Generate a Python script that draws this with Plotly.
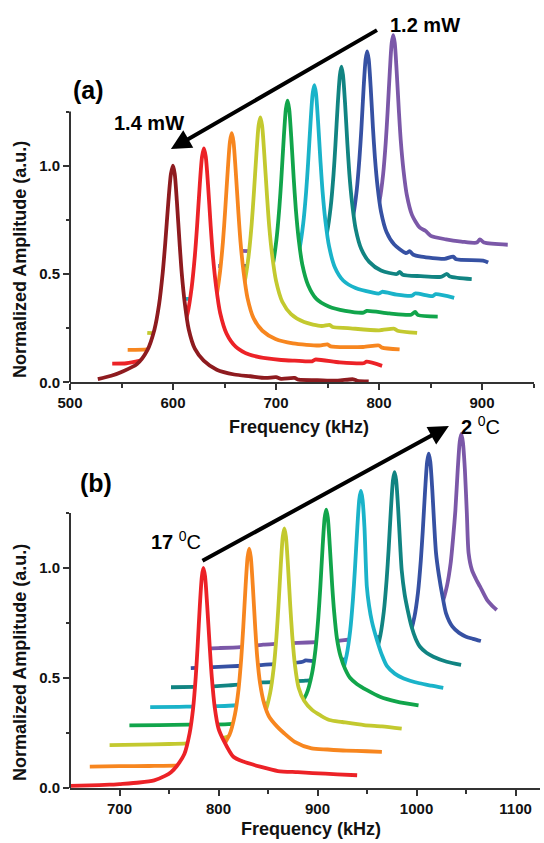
import plotly.graph_objects as go

FONT = "Liberation Sans, Arial, sans-serif"
AXC = "#333333"

# ---------------- panel (a): laser power series (kHz, a.u.) ----------------
a_darkred_f = [527, 540, 550, 565, 575, 582, 586.5, 590, 592.5, 595.5, 598, 600, 601.7, 603.8, 606.4, 608.5, 611.5, 615.3, 621.3, 629.8, 642.5, 659.5, 675, 690, 700, 705, 718, 722, 740, 760, 775, 779, 790]
a_darkred_y = [0.015, 0.03, 0.048, 0.084, 0.147, 0.244, 0.36, 0.505, 0.644, 0.834, 0.962, 1.0, 0.962, 0.833, 0.642, 0.503, 0.363, 0.244, 0.154, 0.1, 0.058, 0.036, 0.028, 0.02, 0.024, 0.016, 0.02, 0.012, 0.01, 0.008, 0.014, 0.007, 0.004]

a_red_f = [541, 555, 568.4, 586, 599.2, 608, 614.2, 618.1, 621.2, 623.4, 626, 628.2, 630, 631.8, 634, 636.6, 638.8, 641.9, 645.8, 652, 660.8, 674, 691.6, 705, 718, 735, 738, 762, 785, 788, 803]
a_red_y = [0.086, 0.088, 0.1, 0.12, 0.16, 0.222, 0.32, 0.437, 0.583, 0.722, 0.913, 1.042, 1.08, 1.042, 0.912, 0.72, 0.58, 0.44, 0.32, 0.225, 0.165, 0.128, 0.11, 0.103, 0.1, 0.097, 0.105, 0.092, 0.088, 0.095, 0.076]

a_orange_f = [556, 575, 597.5, 614.5, 627.3, 635.8, 641.7, 645.5, 648.5, 650.6, 653.2, 655.3, 657, 658.7, 660.8, 663.4, 665.5, 668.5, 672.3, 678.3, 686.8, 699.5, 716.5, 742, 750, 753, 784.5, 800, 803, 820]
a_orange_y = [0.15, 0.152, 0.17, 0.188, 0.225, 0.288, 0.386, 0.504, 0.65, 0.79, 0.982, 1.112, 1.15, 1.112, 0.982, 0.79, 0.65, 0.51, 0.39, 0.295, 0.238, 0.2, 0.18, 0.17, 0.175, 0.166, 0.163, 0.17, 0.16, 0.152]

a_yg_f = [575, 583, 600, 625.3, 642.3, 655, 663.6, 669.5, 673.3, 676.3, 678.4, 681, 683.1, 684.8, 686.5, 688.6, 691.2, 693.3, 696.3, 700.1, 706.1, 714.6, 727.3, 744.3, 752, 755, 769.8, 800, 815, 818, 837]
a_yg_y = [0.228, 0.226, 0.232, 0.248, 0.266, 0.303, 0.365, 0.463, 0.58, 0.726, 0.865, 1.056, 1.185, 1.223, 1.185, 1.056, 0.865, 0.726, 0.586, 0.467, 0.372, 0.315, 0.278, 0.26, 0.265, 0.255, 0.25, 0.24, 0.247, 0.238, 0.228]

a_green_f = [590, 620, 631.2, 655.2, 671.2, 683.2, 691.2, 696.8, 700.4, 703.2, 705.2, 707.6, 709.6, 711.2, 712.8, 714.8, 717.2, 719.2, 722, 725.6, 731.2, 739.2, 751.2, 767.2, 785, 788, 810, 831.2, 835, 838, 857]
a_green_y = [0.305, 0.306, 0.31, 0.32, 0.343, 0.38, 0.442, 0.54, 0.657, 0.803, 0.942, 1.133, 1.262, 1.30, 1.262, 1.132, 0.941, 0.802, 0.662, 0.542, 0.448, 0.385, 0.35, 0.33, 0.322, 0.33, 0.318, 0.312, 0.325, 0.31, 0.303]

a_cyan_f = [609, 630, 657.2, 681.2, 697.2, 709.2, 717.2, 722.8, 726.4, 729.2, 731.2, 733.6, 735.6, 737.2, 738.8, 740.8, 743.2, 745.2, 748, 751.6, 757.2, 765.2, 777.2, 793.2, 800, 803, 817.2, 832, 835, 852, 855, 873]
a_cyan_y = [0.385, 0.386, 0.392, 0.4, 0.42, 0.455, 0.518, 0.616, 0.732, 0.877, 1.015, 1.205, 1.333, 1.372, 1.335, 1.207, 1.018, 0.881, 0.744, 0.626, 0.53, 0.47, 0.435, 0.415, 0.41, 0.418, 0.405, 0.4, 0.41, 0.398, 0.407, 0.39]

a_teal_f = [640, 660, 686.5, 709.6, 725, 736.5, 744.3, 749.6, 753.1, 755.8, 757.7, 760, 762, 763.5, 765, 767, 769.3, 771.2, 773.9, 777.4, 782.8, 790.5, 802, 817.4, 820, 823, 840.5, 860, 866, 869, 890]
a_teal_y = [0.46, 0.461, 0.468, 0.478, 0.496, 0.533, 0.596, 0.693, 0.81, 0.956, 1.096, 1.288, 1.417, 1.457, 1.42, 1.292, 1.102, 0.964, 0.827, 0.707, 0.615, 0.556, 0.516, 0.5, 0.51, 0.497, 0.49, 0.487, 0.5, 0.488, 0.476]

a_blue_f = [644, 660, 670, 690, 713.5, 736, 751, 762.3, 769.8, 775, 778.4, 781, 782.9, 785.1, 787, 788.5, 790, 791.9, 794.1, 796, 798.6, 802, 807.3, 814.8, 826, 830, 833, 841, 863.5, 872, 875, 901, 906]
a_blue_y = [0.537, 0.536, 0.537, 0.541, 0.547, 0.557, 0.575, 0.611, 0.674, 0.771, 0.888, 1.033, 1.171, 1.362, 1.49, 1.528, 1.491, 1.364, 1.177, 1.04, 0.904, 0.787, 0.694, 0.636, 0.597, 0.605, 0.59, 0.58, 0.57, 0.58, 0.568, 0.562, 0.553]

a_purple_f = [666, 680, 697, 720, 740.8, 762.7, 777.3, 788.3, 795.6, 800.7, 804, 806.5, 808.3, 810.5, 812.3, 813.8, 815.3, 817.1, 819.3, 821.1, 823.7, 827, 832, 839.4, 845, 850.3, 865, 880, 895, 898, 902, 925]
a_purple_y = [0.607, 0.606, 0.608, 0.612, 0.617, 0.627, 0.645, 0.682, 0.744, 0.842, 0.96, 1.105, 1.244, 1.436, 1.565, 1.603, 1.566, 1.44, 1.253, 1.118, 0.982, 0.865, 0.773, 0.715, 0.7, 0.676, 0.66, 0.65, 0.645, 0.66, 0.645, 0.635]

# ---------------- panel (b): temperature series (kHz, a.u.) ----------------
b_red_f = [650, 670, 690, 700, 720, 735, 746, 752, 757.7, 765.5, 770.8, 774.3, 777, 778.9, 781.2, 783.2, 784.7, 786.4, 788.5, 791.1, 793.2, 796.2, 800, 805, 815, 825, 842, 860, 880, 895, 920, 940]
b_red_y = [0.01, 0.012, 0.015, 0.018, 0.025, 0.035, 0.055, 0.072, 0.099, 0.154, 0.248, 0.36, 0.505, 0.644, 0.834, 0.962, 1.0, 0.962, 0.834, 0.644, 0.505, 0.366, 0.27, 0.218, 0.142, 0.12, 0.097, 0.077, 0.072, 0.068, 0.062, 0.058]

b_orange_f = [670, 700, 730, 760, 780, 791, 803, 811, 816.6, 820.2, 823, 825, 827.4, 829.4, 831, 832.6, 834.6, 837, 839, 842, 846, 851, 859, 866, 877, 894, 910, 929, 950, 965]
b_orange_y = [0.097, 0.099, 0.1, 0.103, 0.115, 0.15, 0.186, 0.241, 0.335, 0.448, 0.593, 0.731, 0.922, 1.05, 1.088, 1.05, 0.922, 0.735, 0.6, 0.475, 0.385, 0.325, 0.28, 0.25, 0.21, 0.18, 0.175, 0.17, 0.167, 0.164]

b_yg_f = [690, 720, 750, 768, 790, 810.5, 826.5, 838.5, 846.5, 852.1, 855.7, 858.5, 860.5, 862.9, 864.9, 866.5, 868.1, 870.1, 872.5, 874.5, 877.3, 880.9, 886.5, 894.5, 903, 912, 925, 947, 965, 985]
b_yg_y = [0.195, 0.197, 0.2, 0.203, 0.21, 0.235, 0.26, 0.285, 0.338, 0.431, 0.544, 0.687, 0.825, 1.014, 1.142, 1.18, 1.142, 1.014, 0.825, 0.69, 0.555, 0.456, 0.397, 0.355, 0.33, 0.309, 0.3, 0.286, 0.28, 0.27]

b_green_f = [710, 740, 770, 790, 810, 840, 852.8, 868.8, 880.8, 888.8, 894.4, 898, 900.8, 902.8, 905.2, 907.2, 908.8, 910.4, 912.4, 914.8, 916.8, 919.6, 923.2, 928, 933, 940, 950, 963, 980, 1002]
b_green_y = [0.285, 0.286, 0.288, 0.288, 0.29, 0.3, 0.31, 0.344, 0.373, 0.427, 0.52, 0.632, 0.775, 0.912, 1.1, 1.228, 1.265, 1.228, 1.1, 0.92, 0.8, 0.68, 0.6, 0.54, 0.5, 0.472, 0.445, 0.415, 0.393, 0.376]

b_cyan_f = [731, 760, 775, 800, 815, 835, 850, 870, 887.8, 903.8, 915.8, 923.8, 929.4, 933, 935.8, 937.8, 940.2, 942.2, 943.8, 945.4, 947.4, 949.8, 952, 955, 960, 965, 970, 978, 987, 1003, 1015, 1027]
b_cyan_y = [0.368, 0.369, 0.37, 0.372, 0.375, 0.38, 0.385, 0.393, 0.41, 0.427, 0.456, 0.51, 0.604, 0.716, 0.859, 0.996, 1.185, 1.313, 1.35, 1.313, 1.185, 0.915, 0.83, 0.755, 0.673, 0.605, 0.555, 0.52, 0.498, 0.476, 0.465, 0.455]

b_teal_f = [752, 776, 795, 810, 820, 845, 870, 888, 905, 921.8, 937.8, 949.8, 957.8, 963.4, 967, 969.8, 971.8, 974.2, 976.2, 977.8, 979.4, 981.4, 983.5, 985, 988, 991, 995, 999, 1003.5, 1010, 1017, 1030.5, 1045]
b_teal_y = [0.458, 0.46, 0.462, 0.466, 0.47, 0.48, 0.484, 0.488, 0.497, 0.503, 0.517, 0.546, 0.6, 0.693, 0.804, 0.947, 1.084, 1.272, 1.399, 1.436, 1.399, 1.272, 1.1, 0.99, 0.88, 0.81, 0.733, 0.68, 0.642, 0.615, 0.597, 0.574, 0.56]

b_blue_f = [772, 790, 810, 830, 845, 870, 885, 888, 900, 928, 950, 972.3, 984.3, 992.3, 997.9, 1001.5, 1004.3, 1006.3, 1008.7, 1010.7, 1012.3, 1013.9, 1015.9, 1017.8, 1019.7, 1022.5, 1026.3, 1029.8, 1036.3, 1043, 1050, 1057, 1065]
b_blue_y = [0.545, 0.548, 0.553, 0.556, 0.56, 0.566, 0.574, 0.58, 0.575, 0.585, 0.59, 0.605, 0.633, 0.686, 0.779, 0.89, 1.033, 1.169, 1.356, 1.483, 1.52, 1.483, 1.356, 1.2, 1.067, 0.97, 0.87, 0.794, 0.733, 0.705, 0.688, 0.678, 0.668]

b_purple_f = [790, 800, 822, 845, 858, 880, 900, 920, 933, 950, 962, 975, 990, 1005.2, 1017.2, 1025.2, 1030.8, 1034.4, 1037.2, 1039.2, 1041.6, 1043.6, 1045.2, 1046.8, 1048.8, 1050.8, 1052.6, 1056, 1060, 1064.2, 1071.2, 1076, 1081]
b_purple_y = [0.635, 0.636, 0.64, 0.652, 0.655, 0.66, 0.663, 0.668, 0.675, 0.68, 0.687, 0.695, 0.71, 0.73, 0.755, 0.83, 0.92, 1.02, 1.15, 1.26, 1.447, 1.573, 1.61, 1.573, 1.45, 1.25, 1.067, 0.99, 0.95, 0.915, 0.855, 0.83, 0.809]

COL = {
    "darkred": "#8e1b1f", "red": "#ec2227", "orange": "#f7861f", "yg": "#c3c92f",
    "green": "#11a54b", "cyan": "#1ab3c9", "teal": "#118482", "blue": "#3651a3",
    "purple": "#7b58a8",
}

# back-to-front drawing order (front curves hide the ones behind them)
a_series = [
    (a_purple_f, a_purple_y, COL["purple"]), (a_blue_f, a_blue_y, COL["blue"]),
    (a_teal_f, a_teal_y, COL["teal"]), (a_cyan_f, a_cyan_y, COL["cyan"]),
    (a_green_f, a_green_y, COL["green"]), (a_yg_f, a_yg_y, COL["yg"]),
    (a_orange_f, a_orange_y, COL["orange"]), (a_red_f, a_red_y, COL["red"]),
    (a_darkred_f, a_darkred_y, COL["darkred"]),
]
b_series = [
    (b_purple_f, b_purple_y, COL["purple"]), (b_blue_f, b_blue_y, COL["blue"]),
    (b_teal_f, b_teal_y, COL["teal"]), (b_cyan_f, b_cyan_y, COL["cyan"]),
    (b_green_f, b_green_y, COL["green"]), (b_yg_f, b_yg_y, COL["yg"]),
    (b_orange_f, b_orange_y, COL["orange"]), (b_red_f, b_red_y, COL["red"]),
]

fig = go.Figure()
for f, y, c in a_series:
    fig.add_trace(go.Scatter(x=f, y=y, mode="lines", xaxis="x", yaxis="y",
                             line=dict(color=c, width=3.8, shape="spline", smoothing=0.7),
                             fill="tozeroy", fillcolor="white", hoverinfo="skip", showlegend=False))
for f, y, c in b_series:
    fig.add_trace(go.Scatter(x=f, y=y, mode="lines", xaxis="x2", yaxis="y2",
                             line=dict(color=c, width=3.8, shape="spline", smoothing=0.7),
                             fill="tozeroy", fillcolor="white", hoverinfo="skip", showlegend=False))

W, H = 544, 843
tickfont = dict(family=FONT, size=15, color="#111111", weight="bold")

def xax(domain, rng, vals, minor_vals, anchor):
    return dict(domain=domain, range=rng, tickmode="array", tickvals=vals, automargin=False,
                ticks="outside", ticklen=6, tickwidth=2, tickcolor=AXC,
                showline=True, linewidth=2, linecolor=AXC, showgrid=False, zeroline=False,
                tickfont=tickfont, anchor=anchor,
                minor=dict(tickmode="array", tickvals=minor_vals, ticks="outside",
                           ticklen=3.5, tickwidth=2, tickcolor=AXC, showgrid=False))

def yax(domain, anchor):
    return dict(domain=domain, range=[0, 1.7], tickmode="array", tickvals=[0, 0.5, 1.0],
                ticktext=["0.0", "0.5", "1.0"], ticks="outside", ticklen=6, tickwidth=2,
                tickcolor=AXC, showline=False, showgrid=False, zeroline=False, automargin=False,
                tickfont=tickfont, anchor=anchor,
                minor=dict(tickmode="array", tickvals=[0.25, 0.75, 1.25], ticks="outside",
                           ticklen=3.5, tickwidth=2, tickcolor=AXC, showgrid=False))

fig.update_layout(
    width=W, height=H, margin=dict(l=0, r=0, t=0, b=0, autoexpand=False),
    paper_bgcolor="white", plot_bgcolor="white",
    xaxis=xax([70 / W, 533.5 / W], [500, 950], [500, 600, 700, 800, 900], [550, 650, 750, 850, 950], "y"),
    yaxis=yax([(H - 382.3) / H, (H - 14.1) / H], "x"),
    xaxis2=xax([70 / W, 540.3 / W], [650, 1125], [700, 800, 900, 1000, 1100], [750, 850, 950, 1050], "y2"),
    yaxis2=yax([(H - 788) / H, (H - 414) / H], "x2"),
    showlegend=False,
)

# y-axis lines only up to 1.25
for xr, yr in (("x domain", "y"), ("x2 domain", "y2")):
    fig.add_shape(type="line", xref=xr, yref=yr, x0=0, x1=0, y0=0, y1=1.25,
                  line=dict(color=AXC, width=2), layer="above")

title_font = dict(family=FONT, size=18, color="#111111", weight="bold")
label_font = dict(family=FONT, size=20, color="#000000")

def txt(text, px, py, font, angle=0):
    return dict(text=text, xref="paper", yref="paper", x=px / W, y=(H - py) / H,
                xanchor="center", yanchor="middle", textangle=angle, showarrow=False, font=font)

ann = [
    txt("Normalized Amplitude (a.u.)", 20, 260, title_font, -90),
    txt("Normalized Amplitude (a.u.)", 20, 663, title_font, -90),
    txt("Frequency (kHz)", 299, 427, title_font),
    txt("Frequency (kHz)", 311, 829, title_font),
    txt("<b>(a)</b>", 88, 90, dict(family=FONT, size=25, color="#000")),
    txt("<b>(b)</b>", 96, 483, dict(family=FONT, size=25, color="#000")),
    txt("<b>1.4 mW</b>", 149, 123, label_font),
    txt("<b>1.2 mW</b>", 425, 25, label_font),
    txt("<b>17</b> <sup>0</sup>C", 176, 540, label_font),
    txt("<b>2</b> <sup>0</sup>C", 480, 426, label_font),
    # arrows
    dict(text="", xref="x", yref="y", x=598, y=1.077, axref="x", ayref="y", ax=799.5, ay=1.63,
         showarrow=True, arrowhead=2, arrowsize=1.0, arrowwidth=4, arrowcolor="#000", standoff=0),
    dict(text="", xref="x2", yref="y2", x=1032.7, y=1.645, axref="x2", ayref="y2", ax=782.3, ay=1.029,
         showarrow=True, arrowhead=2, arrowsize=1.0, arrowwidth=4, arrowcolor="#000", standoff=0),
]
fig.update_layout(annotations=ann)

fig.write_html("out.html", config={"displayModeBar": False},
               post_script="document.body.style.margin='0px';")
